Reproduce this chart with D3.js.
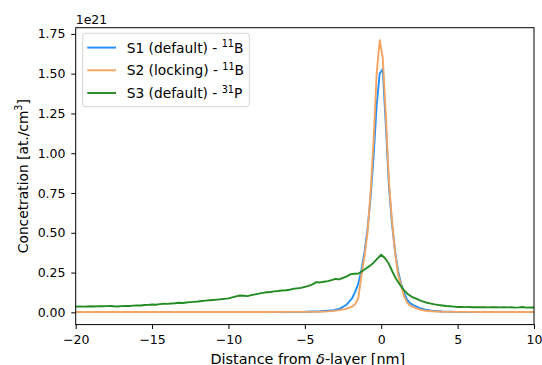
<!DOCTYPE html>
<html><head><meta charset="utf-8">
<script src="https://cdn.jsdelivr.net/npm/d3@7"></script>
<style>
html,body{margin:0;padding:0;background:#fff;}
text{font-family:"DejaVu Sans",sans-serif;}
</style></head>
<body>
<svg id="chart" width="542" height="365"></svg>
<script>
// ---- data ----
const seriesNames = ["S1 (default) - ", "S2 (locking) - ", "S3 (default) - "];
const seriesSup = ["11", "11", "31"];
const seriesElem = ["B", "B", "P"];
const seriesColors = ["#1e90ff", "#f4a460", "#228b22"];

const xTicks = [-20, -15, -10, -5, 0, 5, 10];
const yTicks = [0, 0.25, 0.5, 0.75, 1.0, 1.25, 1.5, 1.75];

// boron profiles (x in nm)
const xB = [-20, -12, -8, -5, -4, -3.5, -3.1, -2.7, -2.3, -1.9, -1.7, -1.5, -1.3, -1.1, -0.9, -0.7, -0.5, -0.3, -0.1,
            0.1, 0.3, 0.5, 0.7, 0.9, 1.1, 1.3, 1.5, 1.7, 1.9, 2.1, 2.5, 2.9, 3.3, 4, 5, 7, 10];
const s1 = [0.002, 0.002, 0.002, 0.004, 0.007, 0.010, 0.013, 0.023, 0.046, 0.090, 0.130, 0.180, 0.265, 0.375, 0.52, 0.72, 0.98, 1.30, 1.50,
            1.53, 1.18, 0.80, 0.56, 0.39, 0.26, 0.18, 0.12, 0.078, 0.056, 0.045, 0.028, 0.016, 0.010, 0.005, 0.003, 0.002, 0.002];
const s2 = [0.002, 0.002, 0.002, 0.003, 0.004, 0.006, 0.009, 0.014, 0.022, 0.036, 0.052, 0.090, 0.230, 0.350, 0.50, 0.75, 1.08, 1.50, 1.71,
            1.60, 1.24, 0.83, 0.58, 0.38, 0.24, 0.17, 0.10, 0.060, 0.042, 0.033, 0.018, 0.010, 0.007, 0.004, 0.003, 0.002, 0.002];

// phosphorus profile
const xP = [-20, -19.75, -19.5, -19.25, -19, -18.75, -18.5, -18.25, -18, -17.75, -17.5, -17.25, -17, -16.75, -16.5, -16.25,
            -16, -15.75, -15.5, -15.25, -15, -14.75, -14.5, -14.25, -14, -13.75, -13.5, -13.25, -13, -12.75, -12.5, -12.25,
            -12, -11.75, -11.5, -11.25, -11, -10.75, -10.5, -10.25, -10, -9.75, -9.5, -9.25, -9, -8.75, -8.5, -8.25,
            -8, -7.75, -7.5, -7.25, -7, -6.75, -6.5, -6.25, -6, -5.75, -5.5, -5.25, -5, -4.75, -4.5, -4.25,
            -4, -3.75, -3.5, -3.25, -3, -2.75, -2.5, -2.25, -2, -1.75, -1.5, -1.25, -1, -0.75, -0.5, -0.25,
            0, 0.25, 0.5, 0.75, 1, 1.25, 1.5, 1.75, 2, 2.25, 2.5, 2.75, 3, 3.25, 3.5, 3.75,
            4, 4.25, 4.5, 4.75, 5, 5.25, 5.5, 5.75, 6, 6.25, 6.5, 6.75, 7, 7.25, 7.5, 7.75,
            8, 8.25, 8.5, 8.75, 9, 9.25, 9.5, 9.75, 10];
const s3 = [0.036, 0.037, 0.036, 0.037, 0.038, 0.037, 0.039, 0.038, 0.039, 0.040, 0.038, 0.037, 0.039, 0.041, 0.040, 0.042,
            0.044, 0.043, 0.046, 0.047, 0.049, 0.048, 0.052, 0.054, 0.053, 0.056, 0.057, 0.060, 0.059, 0.062, 0.064, 0.066,
            0.068, 0.071, 0.074, 0.076, 0.078, 0.080, 0.082, 0.085, 0.088, 0.094, 0.100, 0.106, 0.104, 0.102, 0.108, 0.113,
            0.118, 0.122, 0.126, 0.128, 0.132, 0.134, 0.137, 0.139, 0.142, 0.148, 0.151, 0.154, 0.160, 0.166, 0.176, 0.190,
            0.188, 0.192, 0.196, 0.203, 0.210, 0.207, 0.217, 0.226, 0.240, 0.243, 0.244, 0.258, 0.275, 0.292, 0.312, 0.338,
            0.362, 0.340, 0.305, 0.252, 0.206, 0.170, 0.138, 0.114, 0.098, 0.088, 0.077, 0.068, 0.060, 0.055, 0.050, 0.046,
            0.043, 0.040, 0.038, 0.036, 0.034, 0.034, 0.033, 0.034, 0.032, 0.033, 0.032, 0.033, 0.031, 0.032, 0.033, 0.031,
            0.032, 0.031, 0.032, 0.030, 0.031, 0.034, 0.030, 0.031, 0.030];

const xDomain = [-20, 10];
const yDomain = [-0.077, 1.789];

// ---- layout ----
const W = 542, H = 365;
const L = 75.7, R = 534, T = 27.7, B = 324.6;
const fsTick = 12.5, fsLab = 14.4, fsLeg = 13.8;
const lw = 1.9;
const svg = d3.select("#chart");
svg.append("rect").attr("width", W).attr("height", H).attr("fill", "#fff");

const x = d3.scaleLinear().domain(xDomain).range([L, R]);
const y = d3.scaleLinear().domain(yDomain).range([B, T]);

svg.append("clipPath").attr("id", "clip").append("rect")
  .attr("x", L).attr("y", T).attr("width", R - L).attr("height", B - T);

const line = d3.line().x(d => x(d[0])).y(d => y(d[1]));
const plot = svg.append("g").attr("clip-path", "url(#clip)");
const dataSets = [xB.map((v, i) => [v, s1[i]]), xB.map((v, i) => [v, s2[i]]), xP.map((v, i) => [v, s3[i]])];
dataSets.forEach((ds, i) => {
  plot.append("path").datum(ds).attr("d", line)
    .attr("fill", "none").attr("stroke", seriesColors[i]).attr("stroke-width", lw)
    .attr("stroke-linejoin", "round").attr("stroke-linecap", "square");
});

// axes
const fmtX = d => (d < 0 ? "\u2212" + Math.abs(d) : "" + d);
const xAxis = d3.axisBottom(x).tickValues(xTicks).tickFormat(fmtX).tickSize(4.4).tickPadding(6.0);
const yAxis = d3.axisLeft(y).tickValues(yTicks).tickFormat(d3.format(".2f")).tickSize(4.4).tickPadding(5.8);
const gx = svg.append("g").attr("transform", `translate(0,${B})`).call(xAxis);
const gy = svg.append("g").attr("transform", `translate(${L},0)`).call(yAxis);
[gx, gy].forEach(g => {
  g.select(".domain").remove();
  g.selectAll("line").attr("stroke", "#000").attr("stroke-width", 1);
  g.selectAll("text").attr("font-size", fsTick).attr("fill", "#000").attr("font-family", "DejaVu Sans");
});

// spines
svg.append("rect").attr("x", L).attr("y", T).attr("width", R - L).attr("height", B - T)
  .attr("fill", "none").attr("stroke", "#000").attr("stroke-width", 1);

// offset text
svg.append("text").attr("x", L).attr("y", 23.5).attr("font-size", fsTick).text("1e21");

// axis labels
const xl = svg.append("text").attr("x", (L + R) / 2 + 3).attr("y", 363.5).attr("text-anchor", "middle").attr("font-size", fsLab);
xl.append("tspan").text("Distance from ");
xl.append("tspan").attr("font-style", "italic").text("\u03b4");
xl.append("tspan").text("-layer [nm]");

const yl = svg.append("text").attr("transform", `translate(27.5,${(T + B) / 2}) rotate(-90)`)
  .attr("text-anchor", "middle").attr("font-size", fsLab - 0.6);
yl.append("tspan").text("Concetration [at./cm");
yl.append("tspan").attr("font-size", (fsLab - 0.6) * 0.7).attr("dy", -5.5).text("3");
yl.append("tspan").attr("dy", 5.5).text("]");

// legend
const lg = svg.append("g");
lg.append("rect").attr("x", 82.7).attr("y", 33.3).attr("width", 166.6).attr("height", 73.4)
  .attr("rx", 2.5).attr("fill", "#fff").attr("fill-opacity", 0.8).attr("stroke", "#d6d6d6").attr("stroke-width", 1);
const rowY = [47.6, 70.3, 93.0];
seriesNames.forEach((n, i) => {
  lg.append("line").attr("x1", 87.3).attr("x2", 116).attr("y1", rowY[i]).attr("y2", rowY[i])
    .attr("stroke", seriesColors[i]).attr("stroke-width", lw);
  const t = lg.append("text").attr("x", 126.7).attr("y", rowY[i] + 5).attr("font-size", fsLeg);
  t.append("tspan").text(n);
  t.append("tspan").attr("font-size", fsLeg * 0.7).attr("dy", -5.5).text(seriesSup[i]);
  t.append("tspan").attr("dy", 5.5).text(seriesElem[i]);
});
</script>
</body></html>
